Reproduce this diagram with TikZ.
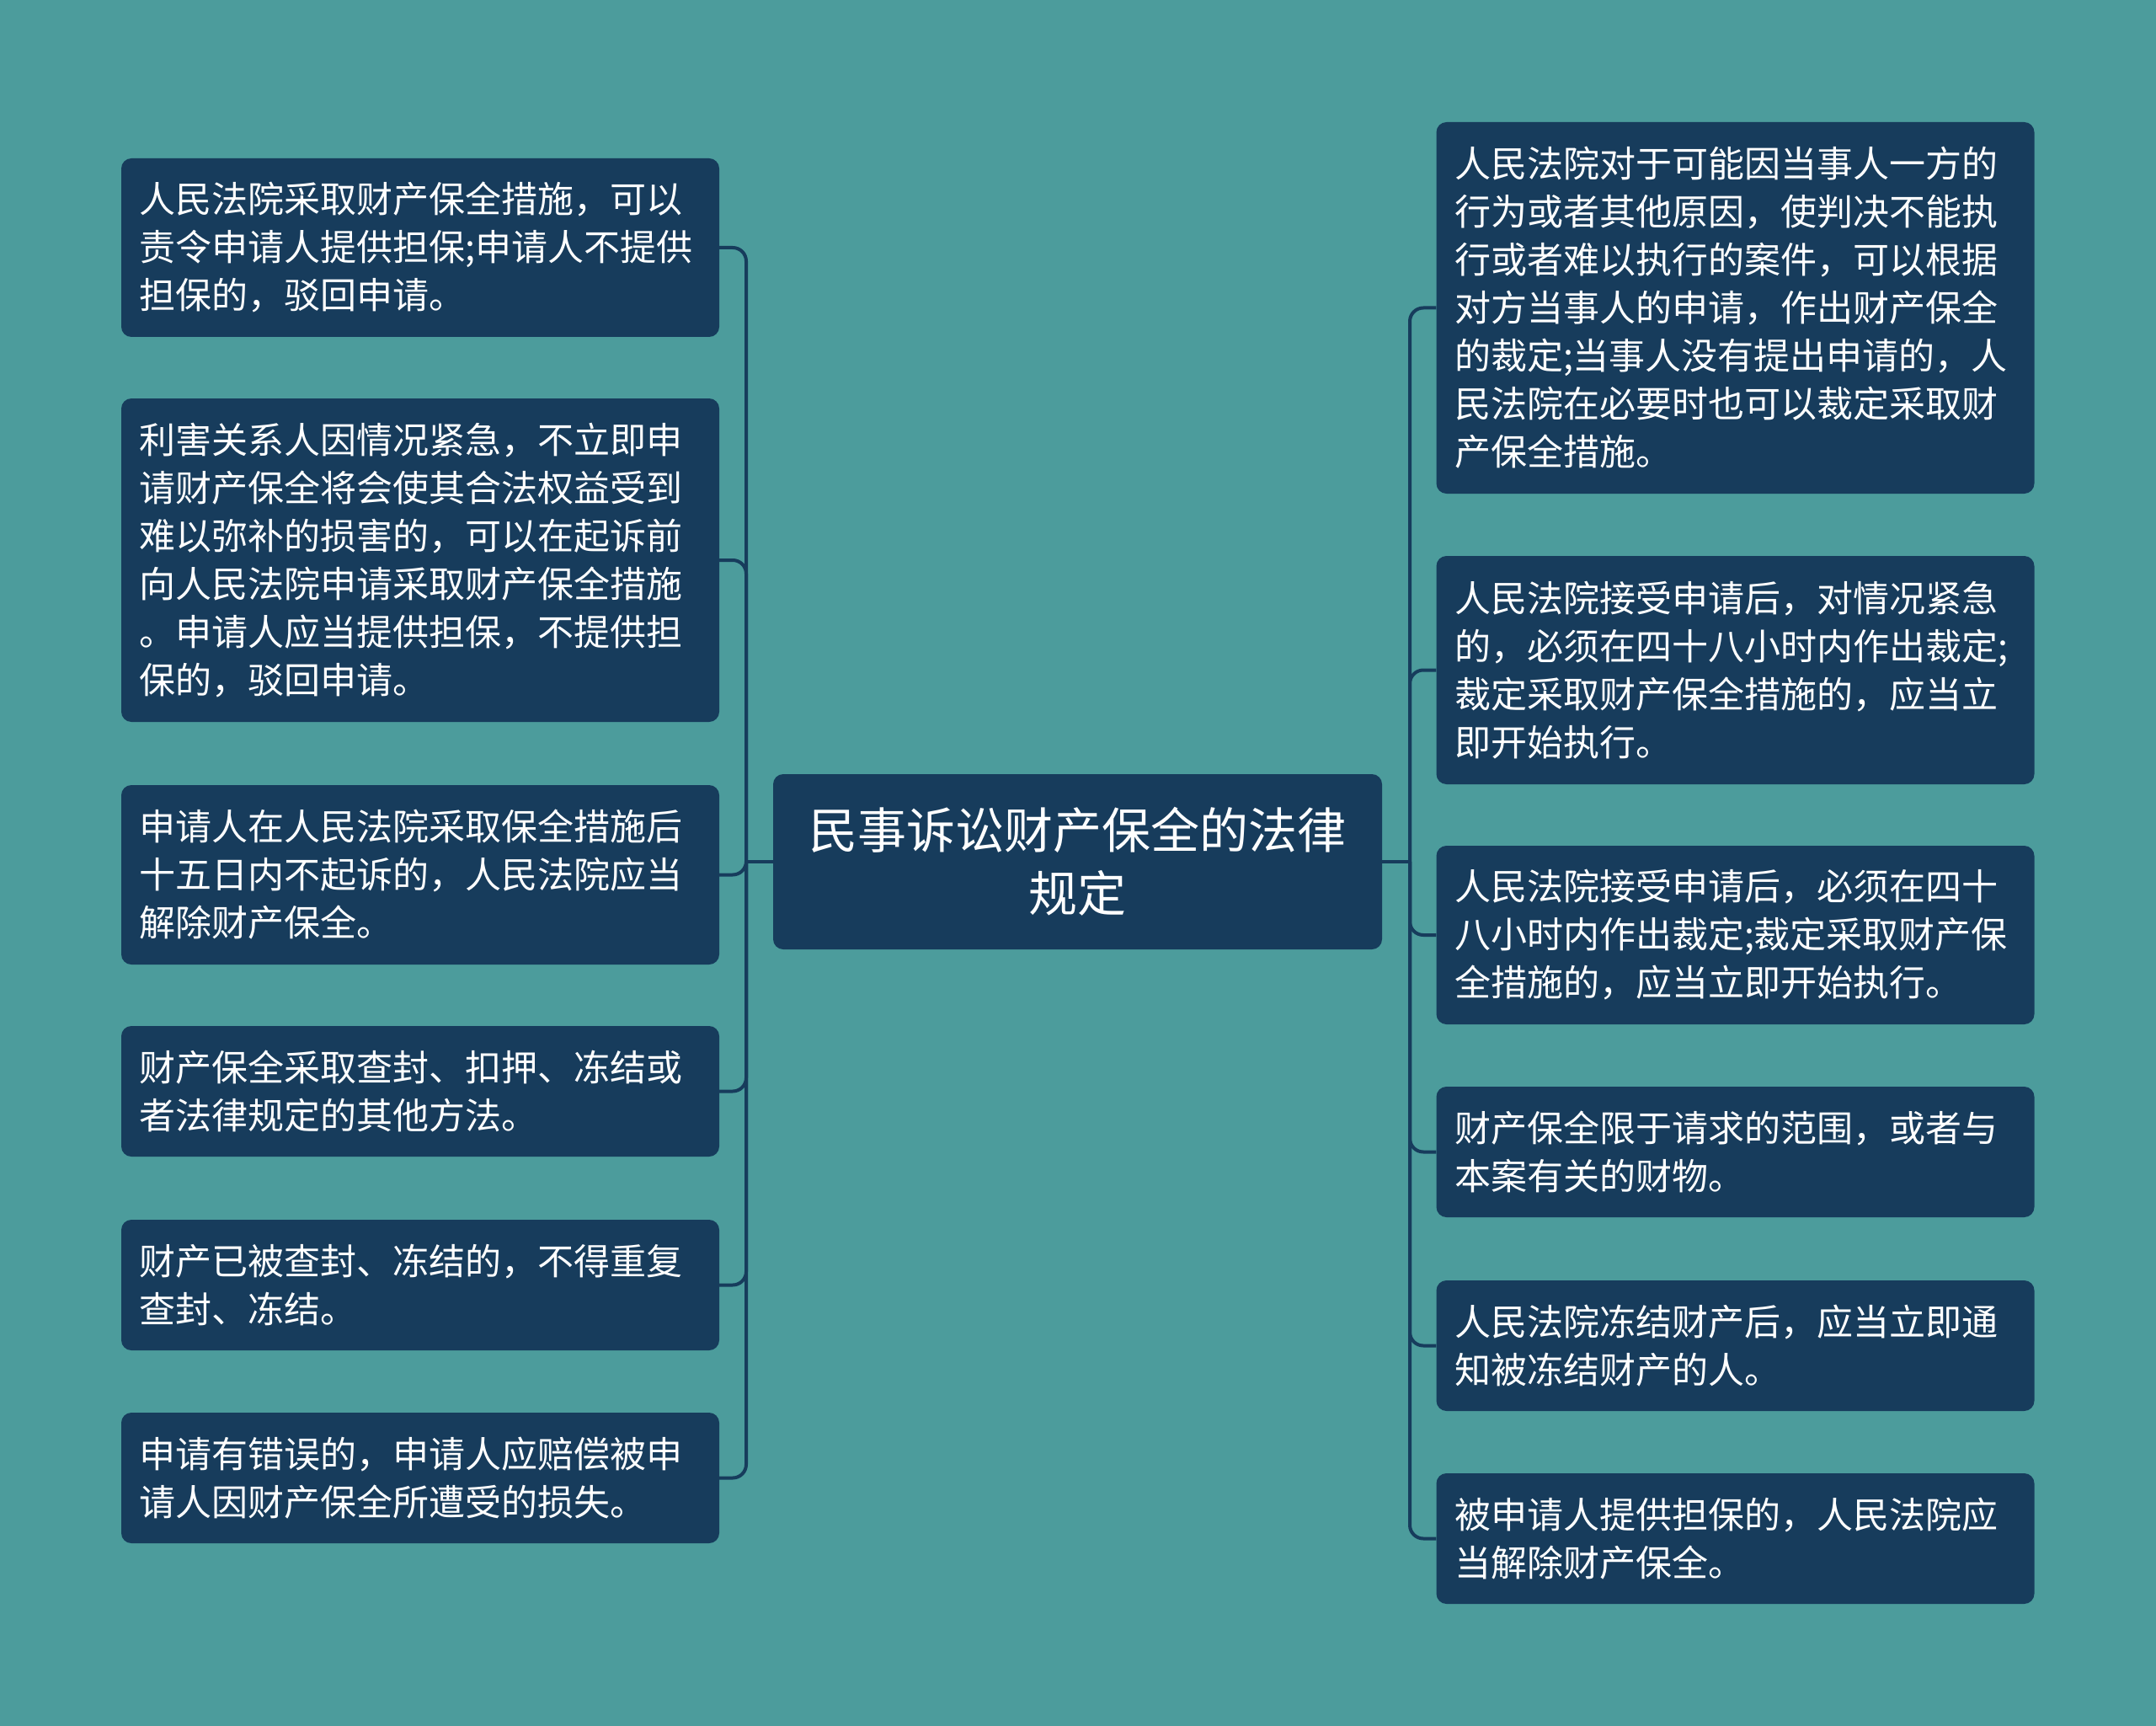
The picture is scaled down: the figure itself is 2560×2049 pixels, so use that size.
\documentclass[tikz,border=0pt]{standalone}
\usepackage{fontspec}
\newfontfamily\cjk{Noto Sans CJK SC}
\definecolor{bgteal}{HTML}{4C9C9C}
\definecolor{boxblue}{HTML}{173C5C}
\tikzset{
  leaf/.style={draw=none, fill=boxblue, rounded corners=12pt, text=white,
    font={\cjk\fontsize{43}{57}\selectfont}, align=left, anchor=center,
    inner xsep=21pt, inner ysep=0pt, text width=667pt, minimum width=710pt},
  root/.style={draw=none, fill=boxblue, rounded corners=12pt, text=white,
    font={\cjk\fontsize{58}{75}\selectfont}, align=center, anchor=center,
    inner sep=0pt, minimum width=723pt, minimum height=208pt},
  conn/.style={draw=boxblue, line width=4pt, rounded corners=16pt},
}
\begin{document}
\begin{tikzpicture}[x=1pt,y=-1pt]
\fill[bgteal] (0,0) rectangle (2560,2049);
\useasboundingbox (0,0) rectangle (2560,2049);

\node[root] (C) at (1279.5,1023) {民事诉讼财产保全的法律\\规定};

\node[leaf, minimum height=212pt] (L1) at (499,294) {人民法院采取财产保全措施，可以\\责令申请人提供担保;申请人不提供\\担保的，驳回申请。};
\node[leaf, minimum height=384pt] (L2) at (499,665) {利害关系人因情况紧急，不立即申\\请财产保全将会使其合法权益受到\\难以弥补的损害的，可以在起诉前\\向人民法院申请采取财产保全措施\\。申请人应当提供担保，不提供担\\保的，驳回申请。};
\node[leaf, minimum height=213pt] (L3) at (499,1038.5) {申请人在人民法院采取保全措施后\\十五日内不起诉的，人民法院应当\\解除财产保全。};
\node[leaf, minimum height=155pt] (L4) at (499,1295.5) {财产保全采取查封、扣押、冻结或\\者法律规定的其他方法。};
\node[leaf, minimum height=155pt] (L5) at (499,1525.5) {财产已被查封、冻结的，不得重复\\查封、冻结。};
\node[leaf, minimum height=155pt] (L6) at (499,1754.5) {申请有错误的，申请人应赔偿被申\\请人因财产保全所遭受的损失。};

\node[leaf, minimum height=441pt] (R1) at (2060.5,365.5) {人民法院对于可能因当事人一方的\\行为或者其他原因，使判决不能执\\行或者难以执行的案件，可以根据\\对方当事人的申请，作出财产保全\\的裁定;当事人没有提出申请的，人\\民法院在必要时也可以裁定采取财\\产保全措施。};
\node[leaf, minimum height=271pt] (R2) at (2060.5,795.5) {人民法院接受申请后，对情况紧急\\的，必须在四十八小时内作出裁定;\\裁定采取财产保全措施的，应当立\\即开始执行。};
\node[leaf, minimum height=212pt] (R3) at (2060.5,1110) {人民法院接受申请后，必须在四十\\八小时内作出裁定;裁定采取财产保\\全措施的，应当立即开始执行。};
\node[leaf, minimum height=155pt] (R4) at (2060.5,1367.5) {财产保全限于请求的范围，或者与\\本案有关的财物。};
\node[leaf, minimum height=155pt] (R5) at (2060.5,1597.5) {人民法院冻结财产后，应当立即通\\知被冻结财产的人。};
\node[leaf, minimum height=155pt] (R6) at (2060.5,1826.5) {被申请人提供担保的，人民法院应\\当解除财产保全。};

\coordinate (LT) at (886,1023);
\coordinate (RT) at (1674,1023);
\draw[conn] (C.west) -- (LT);
\draw[conn] (C.east) -- (RT);
\foreach \n in {L1,L2,L3,L4,L5,L6} \draw[conn] (LT) |- (\n.east);
\foreach \n in {R1,R2,R3,R4,R5,R6} \draw[conn] (RT) |- (\n.west);
\end{tikzpicture}
\end{document}
